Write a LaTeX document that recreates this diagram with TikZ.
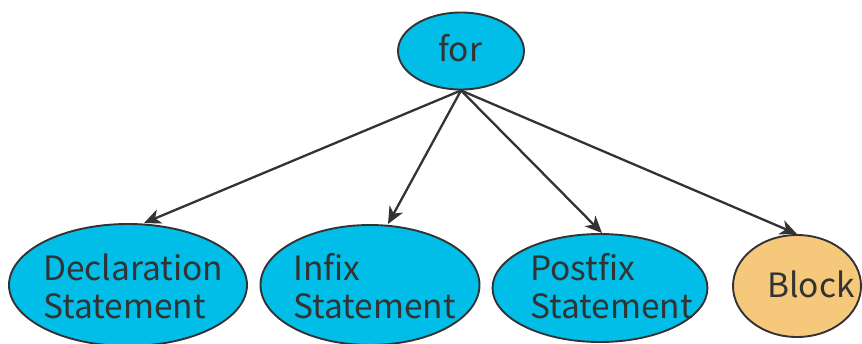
\documentclass[tikz,border=0pt]{standalone}
\usepackage{fontspec}
\setmainfont{Noto Sans CJK JP}
\usetikzlibrary{shapes.geometric,arrows.meta}
\definecolor{inkgray}{HTML}{333333}
\definecolor{cyanfill}{HTML}{00BEE8}
\definecolor{orangefill}{HTML}{F5C87C}
\tikzset{
  bubble/.style={ellipse, draw=inkgray, line width=1.9pt, fill=cyanfill, inner sep=0pt},
  lbl/.style={text=inkgray, inner sep=0pt, align=left, anchor=base west,
              font=\fontsize{33.5}{38}\selectfont},
  link/.style={draw=inkgray, line width=2.3pt,
               -{Stealth[length=17pt,width=15pt,inset=5pt]}}
}
\begin{document}
\begin{tikzpicture}[x=1pt,y=1pt]
  \useasboundingbox (0,0) rectangle (862,-343);
  % root and children
  \node[bubble, minimum width=126pt, minimum height=77pt] (for) at (461,-51) {};
  \node[bubble, minimum width=238pt, minimum height=122pt] (decl) at (128,-285) {};
  \node[bubble, minimum width=219pt, minimum height=120pt] (infix) at (370,-285) {};
  \node[bubble, minimum width=215pt, minimum height=108pt] (post) at (600,-288) {};
  \node[bubble, fill=orangefill, minimum width=128pt, minimum height=102pt] (block) at (797,-286) {};
  % labels (base anchor sits on the last line)
  \node[lbl] (forlbl) at (438,-61) {for};
  \node[lbl] (decllbl) at (43,-318) {Declaration\\Statement};
  \node[lbl] (infixlbl) at (293,-318) {Infix\\Statement};
  \node[lbl] (postlbl) at (530,-318) {Postfix\\Statement};
  \node[lbl] (blocklbl) at (767,-297) {Block};
  % edges
  \draw[link] (for.south) -- ([xshift=16pt]decl.north);
  \draw[link] (for.south) -- ([xshift=18pt]infix.north);
  \draw[link] (for.south) -- ([xshift=2pt]post.north);
  \draw[link] (for.south) -- (block.north);
\end{tikzpicture}
\end{document}
